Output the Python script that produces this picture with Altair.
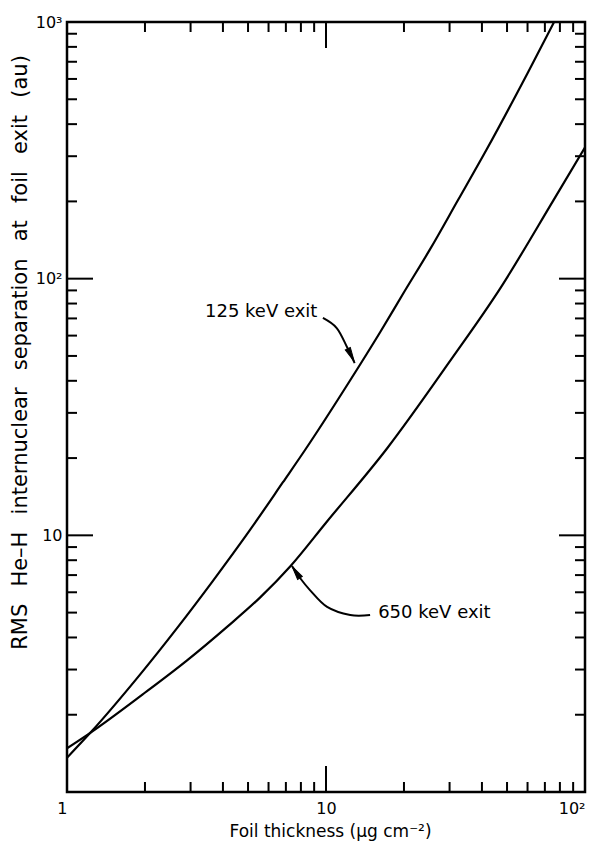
import altair as alt
import pandas as pd

# ---- data (log-log) ----
x_125 = [1.0, 1.23, 1.91, 2.66, 3.66, 5.09, 6.82, 8.3, 12.4, 16.2, 20.0, 25.2, 32.3, 41.8, 60.0, 76.0]
y_125 = [1.36, 1.70, 2.86, 4.35, 6.65, 10.5, 16.1, 21.5, 40.2, 62.0, 88.5, 130.0, 202.0, 320.0, 632.0, 1000.0]

x_650 = [1.0, 1.23, 1.96, 2.9, 4.15, 5.56, 7.3, 10.0, 17.2, 30.0, 47.0, 75.3, 100.0]
y_650 = [1.48, 1.70, 2.40, 3.25, 4.4, 5.72, 7.6, 11.2, 21.8, 47.5, 91.5, 201.0, 325.0]

series_names = ["125 keV exit", "650 keV exit"]

# annotation arrows (data coordinates)
arrow1_x = [9.73, 11.0, 12.05, 12.9]
arrow1_y = [70.3, 64.2, 54.2, 46.9]
arrow2_x = [14.8, 12.4, 10.1, 8.67, 7.94, 7.39]
arrow2_y = [4.89, 4.89, 5.26, 6.12, 6.82, 7.59]
head_x = [12.49, 7.66]
head_y = [50.4, 7.19]
head_angle = [153, 326]

label_text = ["125 keV exit", "650 keV exit"]
label_x = [3.41, 15.9]
label_y = [74.0, 4.98]

# tick values
x_minor = [2, 3, 4, 5, 6, 7, 8, 9, 20, 30, 40, 50, 60, 70, 80, 90]
x_major = [10]
y_minor = [2, 3, 4, 5, 6, 7, 8, 9, 20, 30, 40, 50, 60, 70, 80, 90,
           200, 300, 400, 500, 600, 700, 800, 900]
y_major = [10, 100]
x_label_vals = [1, 10, 100]
y_label_vals = [10, 100, 1000]

W, H = 518, 770
MINOR, MAJOR = 10, 26
FONT = "DejaVu Sans"
GAP = "\u2002 "

xs = alt.Scale(type="log", domain=[1, 100], nice=False)
ys = alt.Scale(type="log", domain=[1, 1000], nice=False)

rows = []
for i, (x, y) in enumerate(zip(x_125, y_125)):
    rows.append({"x": x, "y": y, "s": series_names[0], "o": i})
for i, (x, y) in enumerate(zip(x_650, y_650)):
    rows.append({"x": x, "y": y, "s": series_names[1], "o": i})
curves_df = pd.DataFrame(rows)

arows = []
for i, (x, y) in enumerate(zip(arrow1_x, arrow1_y)):
    arows.append({"x": x, "y": y, "a": "a1", "o": i})
for i, (x, y) in enumerate(zip(arrow2_x, arrow2_y)):
    arows.append({"x": x, "y": y, "a": "a2", "o": i})
arrows_df = pd.DataFrame(arows)

heads_df = pd.DataFrame({"x": head_x, "y": head_y, "ang": head_angle})
labels_df = pd.DataFrame({"x": label_x, "y": label_y, "t": label_text})

y_title = GAP.join(["RMS", "He–H", "internuclear", "separation", "at", "foil", "exit", "(au)"])

x_axis = alt.Axis(
    values=x_label_vals,
    labelExpr="datum.value == 100 ? '10²' : datum.value == 10 ? '10' : '1'",
    labelAlign=alt.condition("datum.value == 10", alt.value("center"), alt.value("right")),
    ticks=False, domain=False, grid=False,
    labelFontSize=16, labelPadding=8, labelFont=FONT, labelColor="black",
    title="Foil thickness  (µg cm⁻²)",
    titleFontSize=17, titleFont=FONT, titleFontWeight="normal", titleColor="black",
    titleX=263, titleY=39, titleBaseline="middle", titleAlign="center",
)
y_axis = alt.Axis(
    values=y_label_vals,
    labelExpr="datum.value == 1000 ? '10³' : datum.value == 100 ? '10²' : '10'",
    ticks=False, domain=False, grid=False,
    labelFontSize=16, labelPadding=5, labelFont=FONT, labelColor="black",
    title=y_title,
    titleFontSize=21, titleFont=FONT, titleFontWeight="normal", titleColor="black",
    titleX=-47, titleY=330, titleBaseline="middle", titleAlign="center", titleAngle=-90,
)

X = alt.X("x:Q", scale=xs, axis=x_axis)
Y = alt.Y("y:Q", scale=ys, axis=y_axis)

curves = alt.Chart(curves_df).mark_line(
    color="black", strokeWidth=2.2, interpolate="monotone", clip=True
).encode(x=X, y=Y, detail="s:N", order="o:Q")

arrows = alt.Chart(arrows_df).mark_line(
    color="black", strokeWidth=2, interpolate="cardinal"
).encode(x=X, y=Y, detail="a:N", order="o:Q")

heads = alt.Chart(heads_df).mark_point(
    shape="M0,-1L0.4,1L-0.4,1Z", filled=True, fill="black", stroke="black",
    strokeWidth=1, size=200, opacity=1
).encode(x=X, y=Y, angle=alt.Angle("ang:Q", scale=None))

labels = alt.Chart(labels_df).mark_text(
    align="left", baseline="middle", fontSize=18, font=FONT, color="black"
).encode(x=X, y=Y, text="t:N")


def xticks(vals, length):
    df = pd.DataFrame({"x": vals})
    base = alt.Chart(df).mark_rule(color="black", strokeWidth=2)
    bottom = base.encode(x=X, y=alt.value(H), y2=alt.value(H - length))
    top = base.encode(x=X, y=alt.value(0), y2=alt.value(length))
    return [bottom, top]


def yticks(vals, length):
    df = pd.DataFrame({"y": vals})
    base = alt.Chart(df).mark_rule(color="black", strokeWidth=2)
    left = base.encode(y=Y, x=alt.value(0), x2=alt.value(length))
    right = base.encode(y=Y, x=alt.value(W), x2=alt.value(W - length))
    return [left, right]


tick_layers = (xticks(x_minor, MINOR) + xticks(x_major, MAJOR)
               + yticks(y_minor, MINOR) + yticks(y_major, MAJOR))

chart = alt.layer(curves, arrows, heads, labels, *tick_layers).properties(
    width=W, height=H,
    autosize=alt.AutoSizeParams(type="none"),
    padding={"left": 59, "top": 14, "right": 6, "bottom": 50},
    background="white",
).configure_view(stroke="black", strokeWidth=2.5)

chart.save("out.html", embed_options={"renderer": "svg", "actions": False})
